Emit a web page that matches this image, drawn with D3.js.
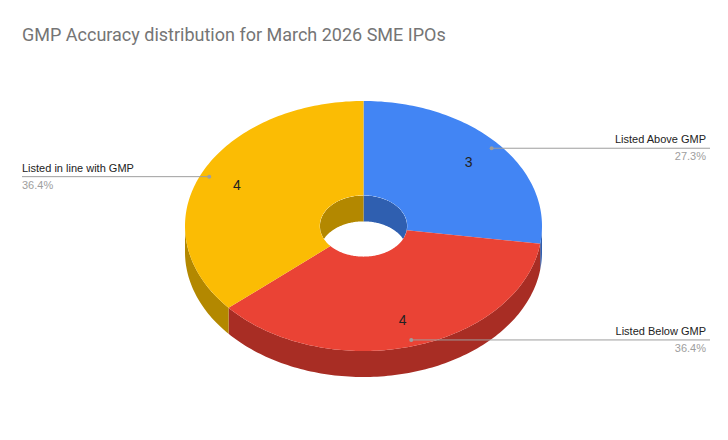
<!DOCTYPE html>
<html><head><meta charset="utf-8">
<script src="https://cdn.jsdelivr.net/npm/d3@7"></script>
<style>body{margin:0;background:#fff}</style></head>
<body><svg id="chart" width="728" height="440"></svg>
<script>
const categories = ['Listed Above GMP', 'Listed Below GMP', 'Listed in line with GMP'];
const counts = [3, 4, 4];
const topColors = ['#4285f4', '#ea4335', '#fbbc04'];
const sideColors = ['#2f5fb0', '#a82d24', '#b38800'];

const W = 728, H = 440;
const cx = 363.5, cy = 226, rx = 178.5, ry = 125, depth = 26, hole = 0.245;
const svg = d3.select('#chart');

svg.append('text').attr('x', 22).attr('y', 41)
  .attr('font-family', 'Roboto, Arial, sans-serif').attr('font-size', 18)
  .attr('fill', '#757575').text('GMP Accuracy distribution for March 2026 SME IPOs');

const total = d3.sum(counts);
const arcs = d3.pie().sort(null)(counts);
// angle a measured clockwise from 12 o'clock
const pt = (a, k, dy = 0) => [cx + rx * k * Math.sin(a), cy + dy - ry * k * Math.cos(a)];
const arcPts = (a0, a1, k, dy = 0) => {
  const n = Math.max(2, Math.ceil(Math.abs(a1 - a0) / 0.02));
  return d3.range(n + 1).map(i => pt(a0 + (a1 - a0) * i / n, k, dy));
};
const line = d3.line();
const closed = pts => line(pts) + 'Z';

// hole background and inner back walls
svg.append('clipPath').attr('id', 'holeClip')
  .append('ellipse').attr('cx', cx).attr('cy', cy).attr('rx', rx * hole).attr('ry', ry * hole);
const g = svg.append('g');
const inner = g.append('g').attr('clip-path', 'url(#holeClip)');
inner.append('ellipse').attr('cx', cx).attr('cy', cy).attr('rx', rx * hole).attr('ry', ry * hole).attr('fill', '#fff');

const clampRange = (a0, a1, lo, hi) => [Math.max(a0, lo), Math.min(a1, hi)];
arcs.forEach((d, i) => {
  // back inner wall: angles in [-pi/2, pi/2] (mod 2pi)
  [[-Math.PI / 2, Math.PI / 2], [1.5 * Math.PI, 2.5 * Math.PI]].forEach(([lo, hi]) => {
    const [b0, b1] = clampRange(d.startAngle, d.endAngle, lo, hi);
    if (b1 > b0) {
      inner.append('path').attr('fill', sideColors[i])
        .attr('d', closed(arcPts(b0, b1, hole).concat(arcPts(b1, b0, hole, depth))));
    }
  });
});

// outer front side walls
arcs.forEach((d, i) => {
  const [b0, b1] = clampRange(d.startAngle, d.endAngle, Math.PI / 2, 1.5 * Math.PI);
  if (b1 > b0) {
    g.append('path').attr('fill', sideColors[i])
      .attr('d', closed(arcPts(b0, b1, 1).concat(arcPts(b1, b0, 1, depth))));
  }
});

// top faces
arcs.forEach((d, i) => {
  g.append('path').attr('fill', topColors[i])
    .attr('d', closed(arcPts(d.startAngle, d.endAngle, 1).concat(arcPts(d.endAngle, d.startAngle, hole))));
});

// value labels
arcs.forEach((d, i) => {
  const m = (d.startAngle + d.endAngle) / 2;
  const [x, y] = pt(m, 0.78);
  g.append('text').attr('x', x).attr('y', y + 5).attr('text-anchor', 'middle')
    .attr('font-family', 'Arial, sans-serif').attr('font-size', 14).attr('fill', '#222').text(counts[i]);
});

// leader lines + legend
const fmt = d3.format('.1%');
arcs.forEach((d, i) => {
  const m = (d.startAngle + d.endAngle) / 2;
  const [x, y] = pt(m, 0.95);
  const right = Math.sin(m) > 0;
  const ex = right ? 710 : 22;
  g.append('line').attr('x1', x).attr('y1', y).attr('x2', ex).attr('y2', y)
    .attr('stroke', '#9e9e9e').attr('stroke-width', 1);
  g.append('circle').attr('cx', x).attr('cy', y).attr('r', 2).attr('fill', '#9e9e9e');
  const tx = right ? 706 : 22, anchor = right ? 'end' : 'start';
  g.append('text').attr('x', tx).attr('y', y - 5).attr('text-anchor', anchor)
    .attr('font-family', 'Arial, sans-serif').attr('font-size', 11).attr('fill', '#222').text(categories[i]);
  g.append('text').attr('x', tx).attr('y', y + 12).attr('text-anchor', anchor)
    .attr('font-family', 'Arial, sans-serif').attr('font-size', 11).attr('fill', '#9e9e9e').text(fmt(counts[i] / total));
});
</script></body></html>
